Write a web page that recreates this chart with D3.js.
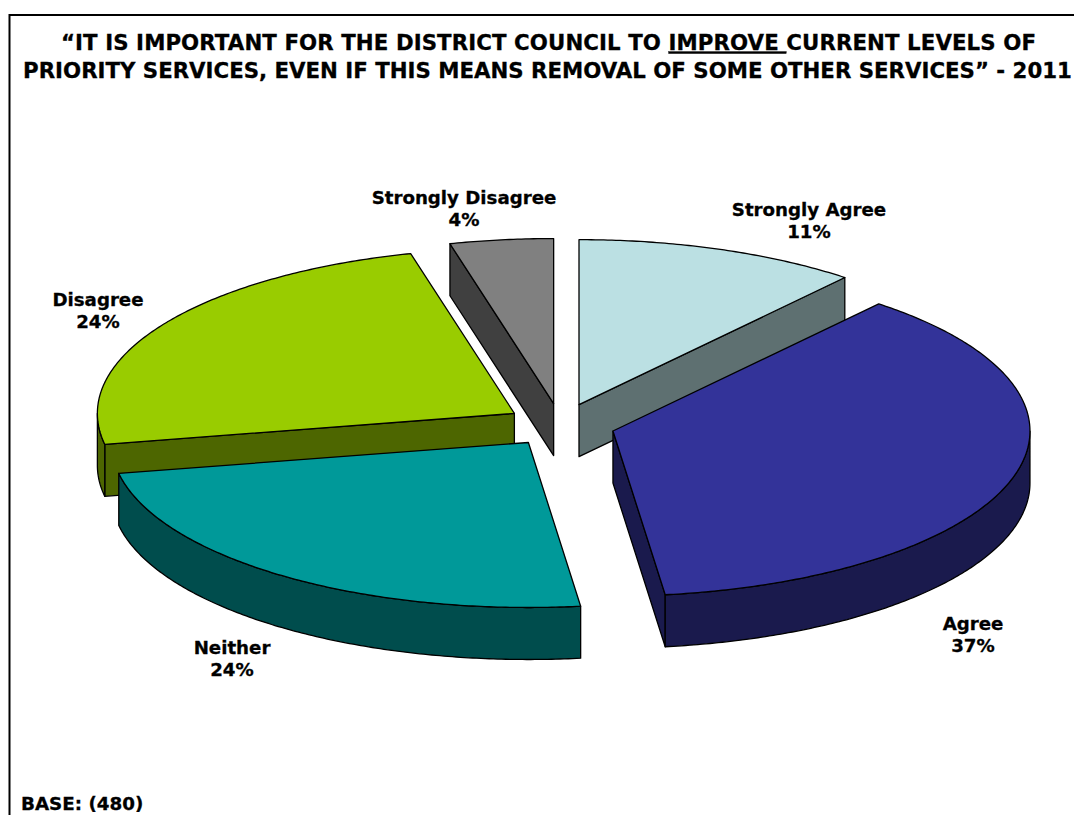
<!DOCTYPE html>
<html>
<head>
<meta charset="utf-8">
<script src="https://cdn.jsdelivr.net/npm/d3@7"></script>
<style>
  html, body { margin: 0; padding: 0; background: #fff; }
  svg { display: block; }
  text { font-family: "DejaVu Sans", Verdana, sans-serif; font-weight: bold; fill: #000; stroke: #000; stroke-width: 0.3px; }
</style>
</head>
<body>
<svg id="chart" width="1074" height="815"></svg>
<script>
// Survey responses, clockwise from twelve o'clock
const categories = ["Strongly Agree", "Agree", "Neither", "Disagree", "Strongly Disagree"];
const percentages = [11, 37, 24, 24, 4];
const topColors = ["#BBE0E3", "#333399", "#009999", "#99CC00", "#808080"];
const sideColors = ["#5E7071", "#1A1A4D", "#004D4D", "#4D6600", "#404040"];
const paintOrder = [4, 0, 3, 1, 2]; // back slices first
const labelAnchors = [[809, 216], [973, 630], [232, 654], [98, 306], [464, 204]];
const titleLines = [
  [["\u201CIT IS IMPORTANT FOR THE DISTRICT COUNCIL TO ", false], ["IMPROVE ", true], ["CURRENT LEVELS OF", false]],
  [["PRIORITY SERVICES, EVEN IF THIS MEANS REMOVAL OF SOME OTHER SERVICES\u201D - 2011", false]]
];
const titleCentres = [548.5, 547.5];
const titleTracking = [0.09, 0];
const baseNote = "BASE: (480)";

const svg = d3.select("#chart");

// Frame: top and left rules only
svg.append("path")
  .attr("d", "M1074,15H9.5V815")
  .attr("fill", "none").attr("stroke", "#000").attr("stroke-width", 2);

// Title
const title = svg.append("g").attr("font-size", 21.3);
titleLines.forEach((runs, i) => {
  const t = title.append("text")
    .attr("x", titleCentres[i]).attr("y", 49.5 + i * 28.5)
    .attr("text-anchor", "middle")
    .style("white-space", "pre")
    .style("letter-spacing", titleTracking[i] + "px");
  runs.forEach(([str, underlined]) => {
    t.append("tspan").text(str)
      .style("text-decoration", underlined ? "underline" : "none");
  });
});

// Tilted, exploded pie: unit-circle coordinates map through these scales
const centre = { x: 560.5, y: 425 };
const depth = 52;
const explode = 0.131;
const sx = d3.scaleLinear().domain([-1, 1]).range([-417, 417]);
const sy = d3.scaleLinear().domain([-1, 1]).range([-165, 165]);

const pie = d3.pie().sort(null).value(d => d);
const arcs = pie(percentages);

const rimPoint = (t, o, dz = 0) => [o.x + sx(Math.sin(t)), o.y - sy(Math.cos(t)) + dz];

function arcSamples(a, b) {
  const n = Math.max(2, Math.ceil(Math.abs(b - a) / 0.01));
  return d3.range(n + 1).map(i => a + (b - a) * i / n);
}

const line = d3.line();
const group = svg.append("g").attr("stroke", "#000").attr("stroke-width", 1.3).attr("stroke-linejoin", "round");

paintOrder.forEach(i => {
  const { startAngle: s, endAngle: e } = arcs[i];
  const mid = (s + e) / 2;
  const apex = {
    x: centre.x + sx(explode * Math.sin(mid)),
    y: centre.y - sy(explode * Math.cos(mid))
  };
  const face = (t) => [
    [apex.x, apex.y], rimPoint(t, apex), rimPoint(t, apex, depth), [apex.x, apex.y + depth]
  ];

  // Radial walls that turn toward the viewer
  if (Math.sin(s) < -1e-6) {
    group.append("path").attr("d", line(face(s)) + "Z").attr("fill", sideColors[i]);
  }
  if (Math.sin(e) > 1e-6) {
    group.append("path").attr("d", line(face(e)) + "Z").attr("fill", sideColors[i]);
  }

  // Outer wall along the near half of the ellipse
  const a = Math.max(s, Math.PI / 2), b = Math.min(e, 3 * Math.PI / 2);
  if (b > a) {
    const ts = arcSamples(a, b);
    const upper = ts.map(t => rimPoint(t, apex));
    const lower = ts.slice().reverse().map(t => rimPoint(t, apex, depth));
    group.append("path").attr("d", line(upper.concat(lower)) + "Z").attr("fill", sideColors[i]);
  }

  // Top surface
  const top = [[apex.x, apex.y]].concat(arcSamples(s, e).map(t => rimPoint(t, apex)));
  group.append("path").attr("d", line(top) + "Z").attr("fill", topColors[i]);
});

// Slice labels
const labels = svg.append("g").attr("font-size", 18.2).attr("text-anchor", "middle");
categories.forEach((c, i) => {
  const [x, y] = labelAnchors[i];
  labels.append("text").attr("x", x).attr("y", y).text(c);
  labels.append("text").attr("x", x).attr("y", y + 22).text(percentages[i] + "%");
});

// Sample size
svg.append("text").attr("x", 21).attr("y", 810).attr("font-size", 18.3).text(baseNote);
</script>
</body>
</html>
